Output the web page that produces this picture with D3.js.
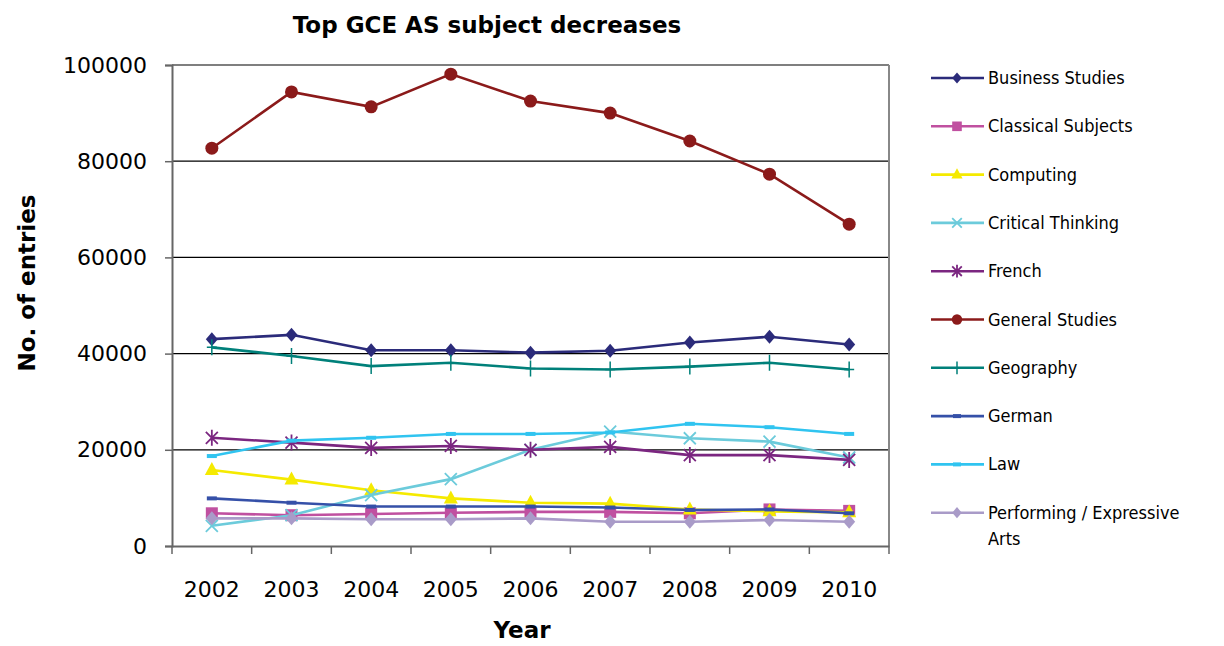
<!DOCTYPE html>
<html><head><meta charset="utf-8">
<script src="https://cdn.jsdelivr.net/npm/d3@7"></script>
<style>
body{margin:0;background:#fff;}
text{font-family:"DejaVu Sans Condensed","DejaVu Sans",sans-serif;fill:#000;}
</style></head>
<body><svg id="c" width="1224" height="646"></svg>
<script>
const years = ["2002","2003","2004","2005","2006","2007","2008","2009","2010"];
const yTicks = [0,20000,40000,60000,80000,100000];
const seriesNames = ["Business Studies","Classical Subjects","Computing","Critical Thinking","French","General Studies","Geography","German","Law","Performing / Expressive Arts"];
const businessStudies   = [43000,43900,40700,40700,40200,40600,42300,43500,41900];
const classicalSubjects = [6800,6400,6650,6900,7100,7100,6800,7600,7300];
const computing         = [15800,13800,11600,9900,9000,8800,7600,7200,7000];
const criticalThinking  = [4200,6400,10600,13900,20000,23800,22400,21700,18400];
const french            = [22500,21500,20400,20800,20000,20600,18900,18900,17900];
const generalStudies    = [82700,94400,91300,98100,92500,90000,84200,77300,66900];
const geography         = [41300,39500,37400,38100,36900,36700,37300,38100,36700];
const german            = [9900,9000,8200,8200,8200,8000,7500,7600,6800];
const law               = [18700,21900,22500,23300,23300,23600,25400,24700,23300];
const performingArts    = [5750,5750,5550,5550,5750,5050,5050,5400,5050];

const seriesValues = [businessStudies,classicalSubjects,computing,criticalThinking,french,generalStudies,geography,german,law,performingArts];
const colors = ["#2B2B7A","#C050A0","#F5EA00","#6CCBDB","#7B2680","#8B1A1A","#00807A","#3550A8","#30C4F0","#A99BC8"];
const markers = ["diamond","square","triangle","x","star","circle","plus","dash","dash","diamond"];

const svg = d3.select("#c");
const L=172,T=65,R=889,B=546;
const x = d3.scaleBand().domain(years).range([L,R]);
const y = d3.scaleLinear().domain([0,100000]).range([B,T]);
const tickFont = "'DejaVu Sans',sans-serif";

// gridlines
svg.append("g").selectAll("line").data(yTicks.filter(d=>d>0)).join("line")
  .attr("x1",L).attr("x2",R).attr("y1",d=>y(d)).attr("y2",d=>y(d))
  .attr("stroke","#000").attr("stroke-width",1.2);
// plot border right
svg.append("line").attr("x1",R).attr("x2",R).attr("y1",T).attr("y2",B).attr("stroke","#888").attr("stroke-width",2);

// y axis
const ya = svg.append("g").attr("transform",`translate(${L},0)`)
  .call(d3.axisLeft(y).tickValues(yTicks).tickSize(7).tickFormat(d3.format("d")));
ya.select(".domain").attr("stroke","#666").attr("stroke-width",2);
ya.selectAll(".tick line").attr("stroke","#666").attr("stroke-width",1.5);
ya.selectAll("text").attr("font-size",22).attr("x",-25).attr("fill","#000")
  .style("font-family",tickFont);

// x axis
const xa = svg.append("g").attr("transform",`translate(0,${B})`)
  .call(d3.axisBottom(x).tickSize(0).tickSizeOuter(0));
xa.select(".domain").attr("stroke","#666").attr("stroke-width",2);
xa.selectAll(".tick line").remove();
xa.selectAll("text").attr("font-size",22).attr("y",51).attr("dy",0).attr("fill","#000")
  .style("font-family",tickFont);
// category boundary ticks
const bounds = years.map(yr=>x(yr)).concat([R]);
svg.append("g").selectAll("line").data(bounds).join("line")
  .attr("x1",d=>d).attr("x2",d=>d).attr("y1",B).attr("y2",B+8)
  .attr("stroke","#666").attr("stroke-width",1.5);

const cx = yr => x(yr)+x.bandwidth()/2;

function marker(g, type, color, px, py, s){
  s = s||1;
  if(type==="diamond"){
    g.append("path").attr("d",`M${px},${py-7*s}L${px+6*s},${py}L${px},${py+7*s}L${px-6*s},${py}Z`).attr("fill",color);
  } else if(type==="square"){
    g.append("rect").attr("x",px-6*s).attr("y",py-6*s).attr("width",12*s).attr("height",12*s).attr("fill",color);
  } else if(type==="triangle"){
    g.append("path").attr("d",`M${px},${py-8*s}L${px+7*s},${py+5*s}L${px-7*s},${py+5*s}Z`).attr("fill",color);
  } else if(type==="x"){
    g.append("path").attr("d",`M${px-6*s},${py-6*s}L${px+6*s},${py+6*s}M${px+6*s},${py-6*s}L${px-6*s},${py+6*s}`).attr("stroke",color).attr("stroke-width",1.8);
  } else if(type==="star"){
    g.append("path").attr("d",`M${px-6*s},${py-6*s}L${px+6*s},${py+6*s}M${px+6*s},${py-6*s}L${px-6*s},${py+6*s}M${px},${py-8*s}L${px},${py+8*s}`).attr("stroke",color).attr("stroke-width",1.8);
  } else if(type==="circle"){
    g.append("circle").attr("cx",px).attr("cy",py).attr("r",6.5*s).attr("fill",color);
  } else if(type==="plus"){
    g.append("path").attr("d",`M${px},${py-8*s}L${px},${py+8*s}M${px-5*s},${py}L${px+5*s},${py}`).attr("stroke",color).attr("stroke-width",1.5);
  } else if(type==="dash"){
    g.append("path").attr("d",`M${px-5*s},${py}L${px+5*s},${py}`).attr("stroke",color).attr("stroke-width",4);
  }
}

const line = d3.line().x((d,i)=>cx(years[i])).y(d=>y(d));
seriesValues.forEach((vals,si)=>{
  const g = svg.append("g");
  g.append("path").datum(vals).attr("d",line).attr("fill","none")
    .attr("stroke",colors[si]).attr("stroke-width",2.6);
  vals.forEach((v,i)=>marker(g,markers[si],colors[si],cx(years[i]),y(v),1));
});

// titles
svg.append("text").attr("x",487).attr("y",33).attr("text-anchor","middle")
  .style("font-family",tickFont).attr("font-size",23).attr("font-weight","bold").text("Top GCE AS subject decreases");
svg.append("text").attr("transform","translate(35,283) rotate(-90)").attr("text-anchor","middle")
  .style("font-family",tickFont).attr("font-size",23).attr("font-weight","bold").text("No. of entries");
svg.append("text").attr("x",522).attr("y",638).attr("text-anchor","middle")
  .style("font-family",tickFont).attr("font-size",23).attr("font-weight","bold").text("Year");

// legend
const lg = svg.append("g");
seriesNames.forEach((n,i)=>{
  const ly = 78 + i*48.3;
  lg.append("line").attr("x1",931).attr("x2",984).attr("y1",ly).attr("y2",ly)
    .attr("stroke",colors[i]).attr("stroke-width",2.6);
  marker(lg,markers[i],colors[i],957,ly,0.8);
  if(n.indexOf(" / ")>=0){
    lg.append("text").attr("x",988).attr("y",ly+6).attr("font-size",18).text("Performing / Expressive");
    lg.append("text").attr("x",988).attr("y",ly+32).attr("font-size",18).text("Arts");
  } else {
    lg.append("text").attr("x",988).attr("y",ly+6).attr("font-size",18).text(n);
  }
});
</script></body></html>
